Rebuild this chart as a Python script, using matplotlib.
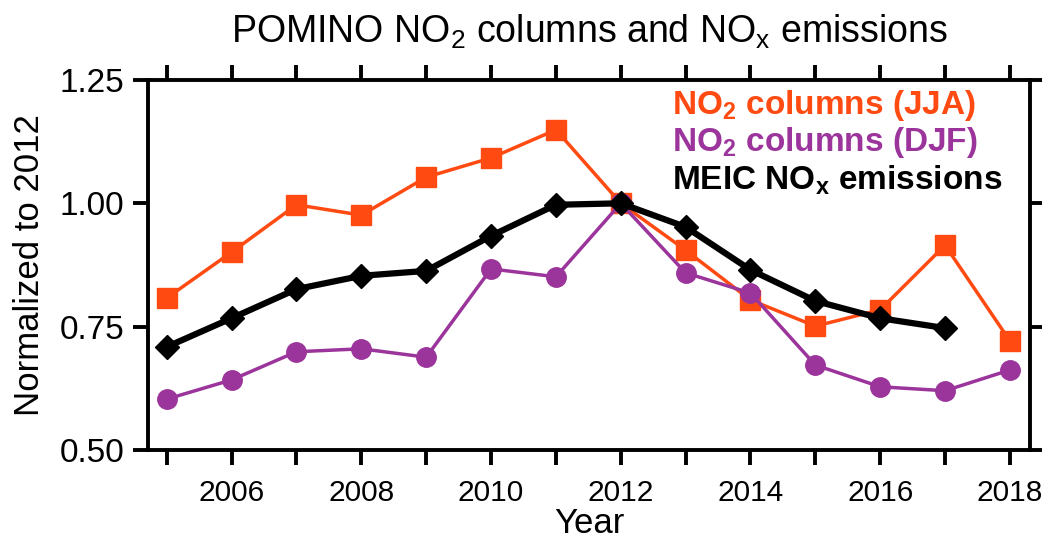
import matplotlib
matplotlib.use('Agg')
import matplotlib.pyplot as plt
import numpy as np

plt.rcParams['font.family'] = ['Liberation Sans', 'DejaVu Sans']
plt.rcParams['mathtext.fontset'] = 'custom'
plt.rcParams['mathtext.rm'] = 'Liberation Sans'
plt.rcParams['mathtext.bf'] = 'Liberation Sans:bold'

years = np.arange(2005, 2019)
jja = [0.808, 0.901, 0.997, 0.976, 1.053, 1.092, 1.149, 1.0, 0.905, 0.804, 0.751, 0.784, 0.915, 0.721]
djf = [0.603, 0.642, 0.699, 0.705, 0.688, 0.867, 0.851, 1.0, 0.859, 0.818, 0.672, 0.628, 0.620, 0.662]
meic_years = np.arange(2005, 2018)
meic = [0.709, 0.767, 0.826, 0.853, 0.863, 0.934, 0.997, 1.0, 0.952, 0.865, 0.802, 0.767, 0.747]

orange = '#ff4a12'
purple = '#9b349b'

fig = plt.figure(figsize=(10.42, 5.48), dpi=100)
ax = fig.add_axes([0.142, 0.179, 0.8465, 0.675])

ax.plot(years, jja, color=orange, lw=2.5, marker='s', ms=15, zorder=3)
ax.plot(years, djf, color=purple, lw=2.5, marker='o', ms=14, zorder=3)
ax.plot(meic_years, meic, color='black', lw=4.5, marker='D', ms=12.5, zorder=4)

ax.set_xlim(2004.71, 2018.31)
ax.set_ylim(0.5, 1.25)
ax.set_xticks(years)
ax.set_xticklabels([str(y) if y % 2 == 0 else '' for y in years])
ax.set_yticks([0.5, 0.75, 1.0, 1.25])
ax.set_yticklabels(['0.50', '0.75', '1.00', '1.25'])

for s in ax.spines.values():
    s.set_linewidth(2.8)
ax.tick_params(direction='out', length=11, width=2.8, labelsize=24, pad=6,
               top=True, right=True)
ax.tick_params(axis='x', pad=10, labelsize=21.5)

ax.set_xlabel('Year', fontsize=25, labelpad=0)
ax.set_ylabel('Normalized to 2012', fontsize=25, labelpad=10)
ax.set_title(r'POMINO NO$_2$ columns and NO$_\mathrm{x}$ emissions', fontsize=27, pad=27)

labels = [r'NO$_\mathbf{2}$ columns (JJA)', r'NO$_\mathbf{2}$ columns (DJF)', r'MEIC NO$_\mathbf{x}$ emissions']
colors = [orange, purple, 'black']
for i, (lab, c) in enumerate(zip(labels, colors)):
    ax.text(0.594, 0.932 - i * 0.101, lab, color=c, fontsize=24, fontweight='bold',
            transform=ax.transAxes, va='center', ha='left')

fig.savefig('out.png', dpi=100)
